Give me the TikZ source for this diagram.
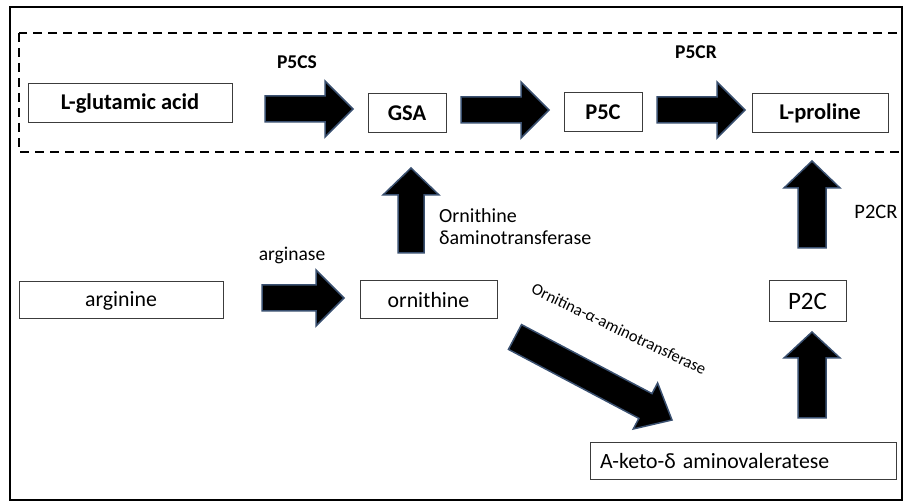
\documentclass[tikz,border=0pt]{standalone}
\usepackage{fontspec}
\setmainfont{Carlito}
\usetikzlibrary{calc}
\definecolor{arrowedge}{RGB}{58,80,112}
\definecolor{boxedge}{RGB}{60,60,60}
\tikzset{
  box/.style={draw=boxedge, line width=1pt, inner sep=0pt, fill=white},
  bbox/.style={box, font=\fontsize{22.5}{25}\selectfont\bfseries},
  rbox/.style={box, font=\fontsize{21.8}{25}\selectfont},
  lab/.style={inner sep=0pt, font=\fontsize{19.5}{22}\selectfont},
  blab/.style={inner sep=0pt, font=\fontsize{19.5}{22}\selectfont\bfseries},
  blockarrow/.style={fill=black, draw=arrowedge, line width=1.5pt, line join=miter},
}
% block arrow from #1 to #2: half shaft #3, half head #4, head length #5
\newcommand\blkarrow[5]{%
  \draw[blockarrow] let \p1=($(#2)-(#1)$), \n1={atan2(\y1,\x1)}, \n2={veclen(\x1,\y1)} in
   [shift={(#1)}, rotate=\n1]
   (0,-#3) -- (\n2-#5,-#3) -- (\n2-#5,-#4) -- (\n2,0) -- (\n2-#5,#4) -- (\n2-#5,#3) -- (0,#3) -- cycle;}
\begin{document}
\begin{tikzpicture}[x=1pt,y=-1pt]
\useasboundingbox (0,0) rectangle (903,502);
\fill[white] (0,0) rectangle (903,502);
% frames
\draw[black, line width=2pt] (10,7) rectangle (901.5,500);
\draw[black, line width=1.5pt, dash pattern=on 9pt off 6pt] (19,33) rectangle (901.5,152);

% nodes
\node[bbox, minimum width=204pt, minimum height=39pt] (lglu) at (130,103.5) {L-glutamic acid};
\node[bbox, minimum width=78pt, minimum height=39pt] (gsa) at (407,113.5) {GSA};
\node[bbox, minimum width=78pt, minimum height=39pt] (p5c) at (603,112.5) {P5C};
\node[bbox, minimum width=136pt, minimum height=39pt] (lpro) at (820,113.5) {L-proline};
\node[rbox, minimum width=204pt, minimum height=37pt] (arg) at (121,300.5) {arginine};
\node[rbox, minimum width=137pt, minimum height=38pt] (orn) at (428.5,300) {ornithine};
\node[box, minimum width=77pt, minimum height=41pt, font=\fontsize{25}{28}\selectfont] (p2c) at (807.5,301.5) {P2C};
\node[rbox, minimum height=37pt, text width=286pt, inner xsep=10pt, align=left] (aketo) at (743,461.5) {A-keto-δ aminovaleratese};

% arrow end points
\coordinate (a1s) at (265,109); \coordinate (a1e) at (353,109);
\coordinate (a2s) at (461,110); \coordinate (a2e) at (549,110);
\coordinate (a3s) at (657,110); \coordinate (a3e) at (745,110);
\coordinate (a4s) at (262,298); \coordinate (a4e) at (344,298);
\coordinate (a5s) at (411,253); \coordinate (a5e) at (411,168);
\coordinate (a6s) at (812,248); \coordinate (a6e) at (812,161);
\coordinate (a7s) at (812,418); \coordinate (a7e) at (812,332);
\coordinate (a8s) at (515,337); \coordinate (a8e) at (672,420);

\blkarrow{a1s}{a1e}{13}{28}{28}
\blkarrow{a2s}{a2e}{13}{28}{28}
\blkarrow{a3s}{a3e}{13}{28}{28}
\blkarrow{a4s}{a4e}{13}{28}{28}
\blkarrow{a5s}{a5e}{13}{28}{27}
\blkarrow{a6s}{a6e}{14}{28}{27}
\blkarrow{a7s}{a7e}{14}{28}{26}
\blkarrow{a8s}{a8e}{14}{26}{30}

% labels
\node[blab] (l1) at (297,62) {P5CS};
\node[blab] (l2) at (696,52) {P5CR};
\node[lab, anchor=west, align=left, font=\fontsize{20}{22}\selectfont] (l3) at (439,227) {Ornithine\\δaminotransferase};
\node[lab] (l4) at (292,255) {arginase};
\node[lab, font=\fontsize{20.5}{22}\selectfont] (l5) at (876,212) {P2CR};
\node[lab, font=\fontsize{16.5}{20}\selectfont, rotate=-25.5] (l6) at (619,329) {Ornitina-α-aminotransferase};
\end{tikzpicture}
\end{document}
